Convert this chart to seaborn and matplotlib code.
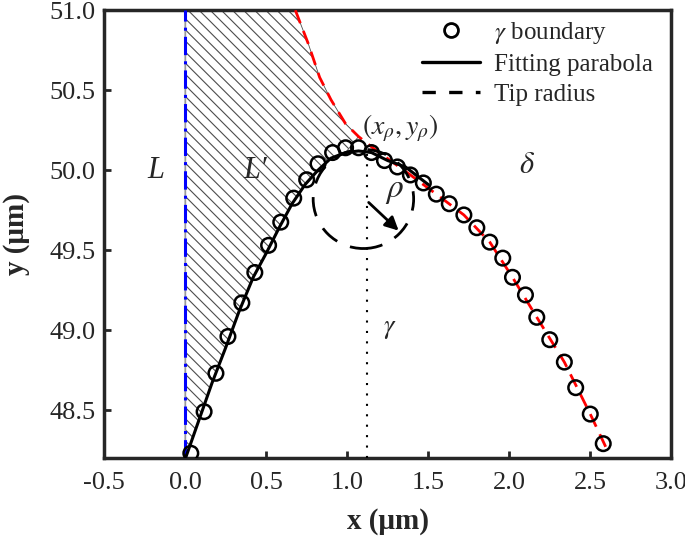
import numpy as np
import pandas as pd
import matplotlib
matplotlib.use("Agg")
import matplotlib.pyplot as plt
import seaborn as sns
from matplotlib.lines import Line2D
from matplotlib.patches import Circle

# ---- data ----
circle_x = [0.035, 0.117, 0.19, 0.264, 0.35, 0.43, 0.515, 0.59, 0.67, 0.75, 0.82, 0.91, 0.99,
            1.07, 1.15, 1.23, 1.31, 1.39, 1.47, 1.55, 1.63, 1.72, 1.80, 1.88, 1.96, 2.02, 2.10,
            2.17, 2.25, 2.34, 2.41, 2.50, 2.58]
circle_y = [48.23, 48.49, 48.73, 48.96, 49.17, 49.36, 49.53, 49.675, 49.825, 49.94, 50.04, 50.11, 50.14,
            50.14, 50.11, 50.06, 50.02, 49.97, 49.92, 49.85, 49.79, 49.72, 49.64, 49.55, 49.45, 49.33, 49.22,
            49.08, 48.94, 48.80, 48.64, 48.475, 48.29]

parab_x = [0.006, 0.086, 0.166, 0.25, 0.33, 0.42, 0.50, 0.58, 0.66, 0.74, 0.82, 0.90, 0.99, 1.07,
           1.15, 1.25, 1.36, 1.50]
parab_y = [48.21, 48.44, 48.67, 48.89, 49.11, 49.33, 49.48, 49.64, 49.79, 49.91, 50.0, 50.075, 50.11, 50.12,
           50.11, 50.06, 50.02, 49.91]

red_x = [0.68, 0.76, 0.83, 0.90, 0.99, 1.07, 1.17, 1.39, 1.55, 1.72, 1.88, 2.02, 2.17, 2.34, 2.50, 2.60]
red_y = [51.0, 50.79, 50.58, 50.44, 50.29, 50.21, 50.13, 49.97, 49.85, 49.72, 49.55, 49.33, 49.08, 48.80, 48.475, 48.26]

tip_x, tip_y, tip_r = 1.10, 49.82, 0.31
xrho = 1.12
arrow_start = (1.12, 49.81)
arrow_end = (1.33, 49.61)

xticks = [-0.5, 0.0, 0.5, 1.0, 1.5, 2.0, 2.5, 3.0]
yticks = [48.5, 49.0, 49.5, 50.0, 50.5, 51.0]
xtick_labels = ['-0.5', '0.0', '0.5', '1.0', '1.5', '2.0', '2.5', '3.0']
ytick_labels = ['48.5', '49.0', '49.5', '50.0', '50.5', '51.0']

# ---- style ----
sns.set_style("ticks")
SERIF = ['Liberation Serif', 'DejaVu Serif']
plt.rcParams['font.family'] = SERIF
plt.rcParams['font.serif'] = SERIF
plt.rcParams['mathtext.fontset'] = 'stix'
plt.rcParams['hatch.linewidth'] = 0.8
plt.rcParams['axes.unicode_minus'] = False

fig = plt.figure(figsize=(6.85, 5.37), dpi=100)
ax = fig.add_axes([0.152, 0.147, 0.828, 0.834])

# hatched region L'
n_par = 13  # parabola points up to tip
poly_x = [0.0] + parab_x[:n_par] + red_x[:6][::-1] + [0.0]
poly_y = [parab_y[0]] + parab_y[:n_par] + red_y[:6][::-1] + [51.0]
ax.fill(poly_x, poly_y, facecolor='none', edgecolor='0.3', hatch='\\\\\\', linewidth=0.6, zorder=1)

# x = 0 line
ax.axvline(0.0, color='0.6', lw=1.0, zorder=2)
ax.axvline(0.0, color='blue', lw=2.2, ls=(0, (6, 2, 1, 2)), zorder=3)

# red dashed curve
sns.lineplot(x=red_x, y=red_y, sort=False, color='red', lw=2.0, ax=ax, zorder=3,
             estimator=None)
ax.lines[-1].set_linestyle((0, (5, 3)))

# dotted vertical
ax.plot([xrho, xrho], [48.2, 50.1], color='black', lw=1.5, ls=(0, (1, 4)), zorder=3)

# tip circle
ax.add_patch(Circle((tip_x, tip_y), tip_r, fill=False, edgecolor='black', lw=2.0,
                    ls=(0, (7, 5)), zorder=4))

# fitting parabola
sns.lineplot(x=parab_x, y=parab_y, sort=False, estimator=None, color='black', lw=2.2, ax=ax, zorder=5)

# data circles
sns.scatterplot(x=circle_x, y=circle_y, marker='o', s=110, facecolor='none', edgecolor='black',
                linewidth=1.8, ax=ax, zorder=6)

# arrow
ax.annotate('', xy=arrow_end, xytext=arrow_start,
            arrowprops=dict(arrowstyle='-|>', color='black', lw=2.0, mutation_scale=20), zorder=7)

# labels
ax.text(-0.18, 50.0, 'L', fontsize=22, style='italic', ha='center', va='center')
ax.text(0.43, 50.0, "L′", fontsize=22, style='italic', ha='center', va='center')
ax.text(2.11, 50.03, r'$\delta$', fontsize=22, ha='center', va='center')
ax.text(1.26, 49.0, r'$\gamma$', fontsize=19, ha='center', va='center')
ax.text(1.29, 49.87, r'$\rho$', fontsize=24, ha='center', va='center')
ax.text(1.09, 50.26, r'$(x_\rho, y_\rho)$', fontsize=20, ha='left', va='center')

ax.set_xlim(-0.5, 3.0)
ax.set_ylim(48.2, 51.0)
ax.set_xticks(xticks)
ax.set_yticks(yticks)
ax.set_xticklabels(xtick_labels, fontfamily=SERIF)
ax.set_yticklabels(ytick_labels, fontfamily=SERIF)
ax.tick_params(direction='in', length=5, width=2, labelsize=19)
ax.tick_params(axis='x', pad=10)
ax.tick_params(axis='y', pad=6)
for s in ax.spines.values():
    s.set_linewidth(2.5)
ax.set_xlabel('x (μm)', fontsize=21, fontweight='bold', labelpad=10, fontfamily=SERIF)
ax.set_ylabel('y (μm)', fontsize=21, fontweight='bold', labelpad=14, fontfamily=SERIF)

handles = [
    Line2D([], [], marker='o', ls='none', mfc='none', mec='black', mew=2, ms=10),
    Line2D([], [], color='black', lw=2.4),
    Line2D([], [], color='black', lw=2.4, ls=(0, (4, 4))),
]
labels = [r'$\gamma$ boundary', 'Fitting parabola', 'Tip radius']
ax.legend(handles, labels, loc='upper right', frameon=False, prop={'family': SERIF, 'size': 18},
          handlelength=2.3, borderaxespad=0.0, labelspacing=0.3, handletextpad=0.56,
          bbox_to_anchor=(0.985, 1.0))

fig.savefig('out.png', dpi=100)
